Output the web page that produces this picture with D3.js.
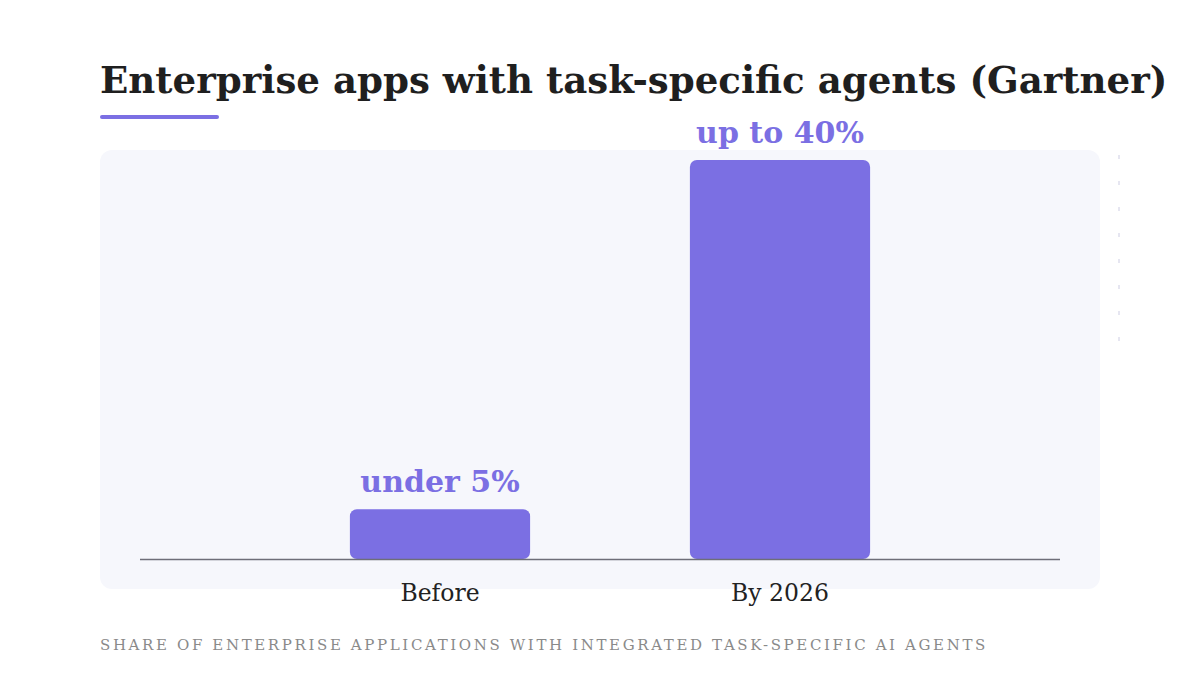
<!DOCTYPE html>
<html><head><meta charset="utf-8">
<script src="https://cdn.jsdelivr.net/npm/d3@7"></script>
<style>html,body{margin:0;padding:0;background:#fff;}svg{display:block;}</style>
</head><body>
<svg id="c" width="1200" height="680"></svg>
<script>
const categories = ["Before", "By 2026"];
const values = [5, 40];
const valueLabels = ["under 5%", "up to 40%"];
const title = "Enterprise apps with task-specific agents (Gartner)";
const caption = "SHARE OF ENTERPRISE APPLICATIONS WITH INTEGRATED TASK-SPECIFIC AI AGENTS";
const sideTicks = [0, 1, 2, 3, 4, 5, 6, 7];

const svg = d3.select("#c");
const accent = "#7b6fe3";
const serif = "'DejaVu Serif', 'Liberation Serif', serif";

// Title
const t = svg.append("text").attr("x", 100).attr("y", 93)
  .attr("font-family", serif).attr("font-weight", "bold").attr("font-size", 40)
  .attr("fill", "#1f1f1f").text(title);
const tw = t.node().getComputedTextLength();
t.attr("font-size", 40 * 1068 / tw);

svg.append("line").attr("x1", 102).attr("x2", 217).attr("y1", 117).attr("y2", 117)
  .attr("stroke", accent).attr("stroke-width", 4).attr("stroke-linecap", "round");

// Panel
svg.append("rect").attr("x", 100).attr("y", 150).attr("width", 1000).attr("height", 439)
  .attr("rx", 12).attr("fill", "#f6f7fc");

// side faint ticks
const ts = d3.scaleLinear().domain([0, 7]).range([157, 339]);
svg.selectAll(".st").data(sideTicks).join("rect").attr("class", "st")
  .attr("x", 1118).attr("y", d => ts(d) - 2).attr("width", 2).attr("height", 4)
  .attr("fill", "#e6e6f1");

const x = d3.scaleBand().domain(categories).range([270, 950]).paddingInner(0.47).paddingOuter(0.235);
const y = d3.scaleLinear().domain([0, 40]).range([559, 160]);

svg.selectAll(".bar").data(categories).join("rect").attr("class", "bar")
  .attr("x", d => x(d)).attr("width", x.bandwidth())
  .attr("y", (d, i) => y(values[i])).attr("height", (d, i) => y(0) - y(values[i]))
  .attr("rx", 7).attr("fill", accent);

svg.append("line").attr("x1", 140).attr("x2", 1060).attr("y1", 559.5).attr("y2", 559.5)
  .attr("stroke", "#6e6e78").attr("stroke-width", 1.5);

svg.selectAll(".vl").data(categories).join("text").attr("class", "vl")
  .attr("x", d => x(d) + x.bandwidth() / 2).attr("y", (d, i) => y(values[i]) - 17)
  .attr("text-anchor", "middle").attr("font-family", serif).attr("font-weight", "bold")
  .attr("font-size", 30).attr("fill", accent).text((d, i) => valueLabels[i]);

const ax = svg.append("g").attr("transform", "translate(0,559)")
  .call(d3.axisBottom(x).tickSize(0).tickPadding(0));
ax.select(".domain").remove();
ax.selectAll("text").attr("dy", 0).attr("y", 42).attr("font-family", serif)
  .attr("font-size", 23.5).attr("fill", "#222");

const cap = svg.append("text").attr("x", 100).attr("y", 650).attr("font-family", serif)
  .attr("font-size", 15).attr("letter-spacing", 2).attr("fill", "#8a8a8a").text(caption);
const cw = cap.node().getComputedTextLength();
cap.attr("letter-spacing", 2 + (888 - cw) / caption.length);
</script>
</body></html>
